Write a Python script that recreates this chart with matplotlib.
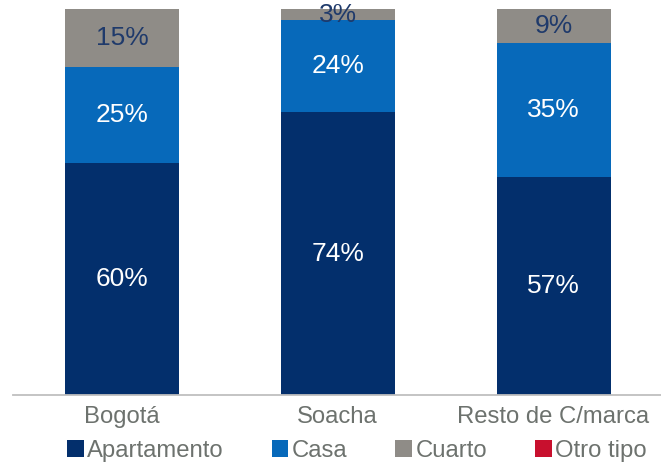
import matplotlib
matplotlib.use("Agg")
import matplotlib.pyplot as plt
import numpy as np

# data (percent of households)
regions = ["Bogotá", "Soacha", "Resto de C/marca"]
series_names = ["Apartamento", "Casa", "Cuarto", "Otro tipo"]
apartamento = [60, 74, 57]
casa = [25, 24, 35]
cuarto = [15, 3, 9]
otro_tipo = [0, 0, 0]

colors = ["#032F6C", "#0769BA", "#8F8C87", "#C8102E"]
label_colors = ["white", "white", "#1F3A6B", "white"]
text_gray = "#6D726E"

plt.rcParams["font.family"] = ["Liberation Sans", "DejaVu Sans"]

fig = plt.figure(figsize=(6.61, 4.66), dpi=100)
ax = fig.add_axes([13 / 661, 71 / 466, 648 / 661, 386 / 466])

all_series = [apartamento, casa, cuarto, otro_tipo]
# 100% stacked: each bar is scaled to its own total (rounded labels add to 101)
totals = np.sum(np.array(all_series, dtype=float), axis=0)

x = np.arange(len(regions))
width = 0.528
bottom = np.zeros(len(regions))
for vals, name, col, lcol in zip(all_series, series_names, colors, label_colors):
    vals = np.array(vals, dtype=float)
    share = vals / totals * 100
    ax.bar(x, share, width, bottom=bottom, color=col, label=name)
    for xi, b, s, v in zip(x, bottom, share, vals):
        if v > 0:
            ax.text(xi, b + s / 2, f"{v:.0f}%", ha="center", va="center",
                    color=lcol, fontsize=19)
    bottom += share

ax.set_xlim(-0.505, 2.498)
ax.set_ylim(0, 100)
ax.set_xticks(x)
ax.set_xticklabels(regions, fontsize=17.2, color=text_gray)
ax.tick_params(axis="x", length=0, pad=8)
ax.set_yticks([])
for side in ["top", "right", "left"]:
    ax.spines[side].set_visible(False)
ax.spines["bottom"].set_color("#BFBFBF")
ax.spines["bottom"].set_linewidth(1.3)

leg = fig.legend(loc="center left", bbox_to_anchor=(67 / 661, 1 - 451 / 466),
                 ncol=4, frameon=False, fontsize=17.2, handlelength=0.7,
                 handleheight=0.7, handletextpad=0.15, columnspacing=2.0,
                 borderpad=0, borderaxespad=0)
for t in leg.get_texts():
    t.set_color(text_gray)

fig.savefig("out.png", dpi=100)
